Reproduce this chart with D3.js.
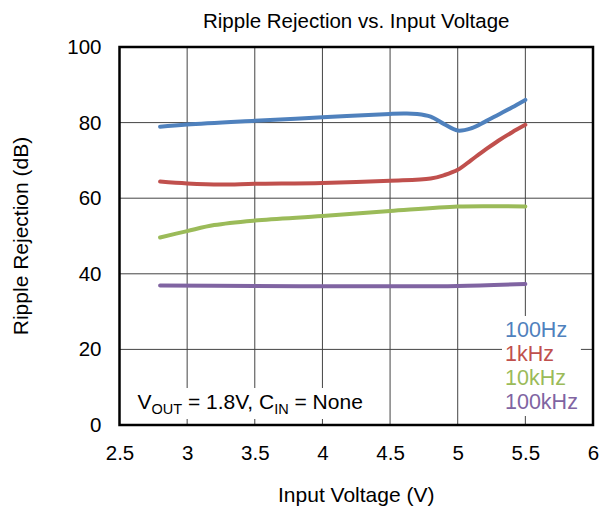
<!DOCTYPE html>
<html lang="en">
<head>
  <meta charset="UTF-8">
  <title>Ripple Rejection vs. Input Voltage</title>
  <script src="https://d3js.org/d3.v7.min.js"></script>
  <style>
    body {
      margin: 0;
      background: #fff;
    }
    svg {
      font-family: "Liberation Sans", Arial, sans-serif;
    }
  </style>
</head>
<body>
  <svg width="599" height="512"></svg>
  <script>
    // values
    const xTicks = [2.5, 3, 3.5, 4, 4.5, 5, 5.5, 6];
    const yTicks = [0, 20, 40, 60, 80, 100];

    const vin100Hz = [2.8, 3.0, 3.5, 4.0, 4.5, 4.6, 4.7, 4.8, 4.9, 5.0, 5.1, 5.2, 5.3, 5.4, 5.5];
    const rr100Hz  = [78.9, 79.5, 80.5, 81.4, 82.3, 82.4, 82.3, 81.6, 79.6, 77.9, 78.5, 80.2, 82.1, 84.0, 86.0];

    const vin1kHz = [2.8, 3.0, 3.25, 3.5, 4.0, 4.5, 4.8, 4.9, 5.0, 5.1, 5.2, 5.3, 5.4, 5.5];
    const rr1kHz  = [64.4, 63.9, 63.6, 63.8, 64.0, 64.6, 65.2, 66.1, 67.5, 70.1, 72.7, 75.2, 77.4, 79.4];

    const vin10kHz = [2.8, 3.0, 3.2, 3.5, 4.0, 4.5, 5.0, 5.25, 5.5];
    const rr10kHz  = [49.6, 51.3, 52.9, 54.1, 55.3, 56.6, 57.8, 57.9, 57.8];

    const vin100kHz = [2.8, 3.5, 4.0, 4.5, 5.0, 5.5];
    const rr100kHz  = [36.9, 36.8, 36.7, 36.7, 36.8, 37.3];

    const seriesNames = ["100Hz", "1kHz", "10kHz", "100kHz"];
    const seriesColors = ["#4f81bd", "#c0504d", "#9bbb59", "#8064a2"];

    const series = [
      { name: seriesNames[0], xs: vin100Hz, ys: rr100Hz },
      { name: seriesNames[1], xs: vin1kHz, ys: rr1kHz },
      { name: seriesNames[2], xs: vin10kHz, ys: rr10kHz },
      { name: seriesNames[3], xs: vin100kHz, ys: rr100kHz }
    ].map((s, i) => ({
      name: s.name,
      color: seriesColors[i],
      values: s.xs.map((v, j) => ({ x: v, y: s.ys[j] }))
    }));

    const margin = { top: 47, right: 6, bottom: 87, left: 119.5 };
    const W = 599, H = 512;
    const width = W - margin.left - margin.right,
          height = H - margin.top - margin.bottom;

    const svg = d3.select("svg");
    const g = svg.append("g")
      .attr("transform", `translate(${margin.left},${margin.top})`);

    const x = d3.scaleLinear().domain([2.5, 6]).range([0, width]);
    const y = d3.scaleLinear().domain([0, 100]).range([height, 0]);

    // grid
    g.append("g")
      .selectAll("line")
      .data(xTicks)
      .join("line")
      .attr("x1", d => x(d)).attr("x2", d => x(d))
      .attr("y1", 0).attr("y2", height)
      .attr("stroke", "#444").attr("stroke-width", 1);

    g.append("g")
      .selectAll("line")
      .data(yTicks)
      .join("line")
      .attr("x1", 0).attr("x2", width)
      .attr("y1", d => y(d)).attr("y2", d => y(d))
      .attr("stroke", "#444").attr("stroke-width", 1);

    // axes (labels only, the frame is drawn below)
    const xAxis = g.append("g")
      .attr("transform", `translate(0,${height})`)
      .call(d3.axisBottom(x).tickValues(xTicks).tickFormat(d3.format("")).tickSize(0).tickPadding(20));
    const yAxis = g.append("g")
      .call(d3.axisLeft(y).tickValues(yTicks).tickSize(0).tickPadding(18));
    [xAxis, yAxis].forEach(a => {
      a.select(".domain").remove();
      a.selectAll("text")
        .attr("font-family", "'Liberation Sans', Arial, sans-serif")
        .attr("font-size", 20.5)
        .attr("fill", "#000");
    });

    // curves, smoothed like the spreadsheet chart
    const line = d3.line()
      .x(d => x(d.x))
      .y(d => y(d.y))
      .curve(d3.curveCatmullRom.alpha(0.5));

    g.append("g")
      .selectAll("path")
      .data(series)
      .join("path")
      .attr("fill", "none")
      .attr("stroke", d => d.color)
      .attr("stroke-width", 4)
      .attr("stroke-linecap", "round")
      .attr("d", d => line(d.values));

    // legend with white background
    const legend = g.append("g");
    const legBg = legend.append("rect").attr("fill", "#fff");
    legend.selectAll("text")
      .data(series)
      .join("text")
      .attr("x", 385.5)
      .attr("y", (d, i) => 290 + i * 24)
      .attr("font-size", 21.5)
      .attr("fill", d => d.color)
      .text(d => d.name);
    const lb = legend.node().getBBox();
    legBg.attr("x", lb.x - 3).attr("y", lb.y - 2)
      .attr("width", lb.width + 6).attr("height", lb.height + 4);

    // condition note
    const note = g.append("g");
    const noteBg = note.append("rect").attr("fill", "#fff");
    const nt = note.append("text")
      .attr("x", 18)
      .attr("y", 362)
      .attr("font-size", 21)
      .attr("fill", "#000");
    nt.append("tspan").text("V");
    nt.append("tspan").attr("font-size", 14.5).attr("dy", 5).text("OUT");
    nt.append("tspan").attr("dy", -5).text(" = 1.8V, C");
    nt.append("tspan").attr("font-size", 14.5).attr("dy", 5).text("IN");
    nt.append("tspan").attr("dy", -5).text(" = None");
    const nb = note.node().getBBox();
    noteBg.attr("x", nb.x - 4).attr("y", nb.y - 2)
      .attr("width", nb.width + 8).attr("height", nb.height + 4);

    // plot frame
    g.append("rect")
      .attr("width", width).attr("height", height)
      .attr("fill", "none")
      .attr("stroke", "#000")
      .attr("stroke-width", 2.5);

    // titles
    svg.append("text")
      .attr("x", margin.left + width / 2)
      .attr("y", 28)
      .attr("text-anchor", "middle")
      .attr("font-size", 20.5)
      .text("Ripple Rejection vs. Input Voltage");

    svg.append("text")
      .attr("x", margin.left + width / 2)
      .attr("y", 502)
      .attr("text-anchor", "middle")
      .attr("font-size", 21)
      .text("Input Voltage (V)");

    svg.append("text")
      .attr("transform", `translate(28,${margin.top + height / 2}) rotate(-90)`)
      .attr("text-anchor", "middle")
      .attr("font-size", 21)
      .text("Ripple Rejection (dB)");
  </script>
</body>
</html>
